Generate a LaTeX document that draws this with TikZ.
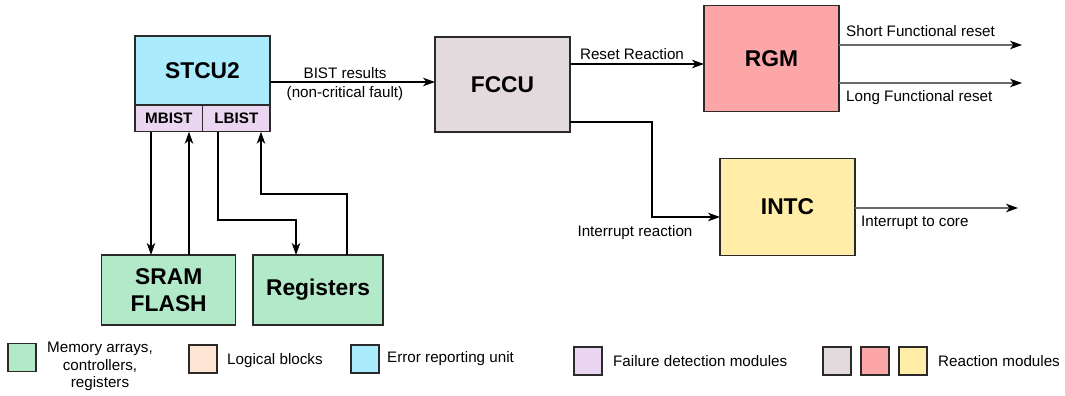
\documentclass[tikz,border=0pt]{standalone}
\usepackage{fontspec}
\setmainfont{Liberation Sans}
\usetikzlibrary{arrows.meta}
\definecolor{memgreen}{HTML}{B2E9C8}
\definecolor{logicpeach}{HTML}{FFE6D4}
\definecolor{errblue}{HTML}{AAEBFD}
\definecolor{detlav}{HTML}{EBD6F2}
\definecolor{reagray}{HTML}{E3DADD}
\definecolor{reapink}{HTML}{FCA6A8}
\definecolor{reayellow}{HTML}{FFEDA8}
\definecolor{edge}{HTML}{2A2A2A}
\definecolor{outgray}{HTML}{6A6A6A}
\tikzset{
  block/.style={draw=edge, line width=1.5pt, outer sep=0pt, inner sep=0pt,
    font=\fontsize{22.8}{26.5}\selectfont\bfseries, align=center},
  sub/.style={draw=edge, line width=1.3pt, outer sep=0pt, inner sep=0pt,
    font=\fontsize{15.2}{18}\selectfont\bfseries},
  swatch/.style={draw=edge, line width=1.1pt, minimum width=28pt, minimum height=28pt, inner sep=0pt},
  lbl/.style={font=\fontsize{15.2}{17.5}\selectfont, inner sep=0pt},
  arr/.style={line width=1.5pt, -{Stealth[length=12pt,width=8.5pt,inset=3.5pt]}},
  garr/.style={draw=outgray, line width=1.8pt, -{Stealth[length=12pt,width=8.5pt,inset=3.5pt,color=black]}},
}
\begin{document}
\begin{tikzpicture}[x=1pt,y=-1pt]
\useasboundingbox (0,0) rectangle (1065,396);

% self-test controller with its BIST engines
\node[block, fill=errblue, minimum width=135pt, minimum height=69pt] (stcu) at (202.5,70.5) {STCU2};
\node[sub, fill=detlav, minimum width=67.7pt, minimum height=26.5pt] (mbist) at (168.85,118.5) {MBIST};
\node[sub, fill=detlav, minimum width=67.3pt, minimum height=26.5pt] (lbist) at (236.35,118.5) {LBIST};

% memories and registers under test
\node[block, fill=memgreen, minimum width=134pt, minimum height=70pt] (sram) at (168.7,290) {SRAM\\FLASH};
\node[block, fill=memgreen, minimum width=130pt, minimum height=70pt] (regs) at (318,290) {Registers};

% reaction modules
\node[block, fill=reagray, minimum width=135pt, minimum height=95pt] (fccu) at (502.5,84.5) {FCCU};
\node[block, fill=reapink, minimum width=135pt, minimum height=106pt] (rgm) at (771.5,58.7) {RGM};
\node[block, fill=reayellow, minimum width=135pt, minimum height=97pt] (intc) at (787.5,207) {INTC};

% routing points
\coordinate (xa) at (151,0);
\coordinate (xb) at (189,0);
\coordinate (c1) at (218,220);
\coordinate (c2) at (296,220);
\coordinate (c3) at (347,194);
\coordinate (c4) at (261,194);
\coordinate (b1) at (300,82);
\coordinate (r1) at (600,64);
\coordinate (i1) at (652,122);
\coordinate (i2) at (652,217);
\coordinate (o1) at (1022,45);
\coordinate (o2) at (1022,83);
\coordinate (o3) at (1018,208);

% BIST paths
\draw[arr] (mbist.south -| xa) -- (sram.north -| xa);
\draw[arr] (sram.north -| xb) -- (mbist.south -| xb);
\draw[arr] (lbist.south -| c1) -- (c1) -- (c2) -- (regs.north -| c2);
\draw[arr] (regs.north -| c3) -- (c3) -- (c4) -- (lbist.south -| c4);

% fault signalling
\draw[arr] (stcu.east |- b1) -- (fccu.west |- b1);
\node[lbl] (bistres) at (345,73) {BIST results};
\node[lbl] (noncrit) at (345,93.5) {(non-critical fault)};

\draw[arr] (fccu.east |- r1) -- (rgm.west |- r1);
\node[lbl] (resetr) at (632,54) {Reset Reaction};

\draw[arr] (fccu.east |- i1) -- (i1) -- (i2) -- (intc.west |- i2);
\node[lbl] (intr) at (635,232.5) {Interrupt reaction};

% outputs
\draw[garr] (rgm.east |- o1) -- (o1);
\draw[garr] (rgm.east |- o2) -- (o2);
\draw[garr] (intc.east |- o3) -- (o3);
\node[lbl, anchor=west] (sfr) at (846,31) {Short Functional reset};
\node[lbl, anchor=west] (lfr) at (846,98) {Long Functional reset};
\node[lbl, anchor=west] (itc) at (861,223) {Interrupt to core};

% legend
\node[swatch, fill=memgreen] (lg1) at (22,357.5) {};
\node[lbl, align=center] (lt1) at (100,366.5) {Memory arrays,\\controllers,\\registers};
\node[swatch, fill=logicpeach] (lg2) at (203,359) {};
\node[lbl, anchor=west] (lt2) at (227,361) {Logical blocks};
\node[swatch, fill=errblue] (lg3) at (365,359) {};
\node[lbl, anchor=west] (lt3) at (387,359) {Error reporting unit};
\node[swatch, fill=detlav] (lg4) at (588,361) {};
\node[lbl, anchor=west] (lt4) at (613,361) {Failure detection modules};
\node[swatch, fill=reagray] (lg5) at (837,361) {};
\node[swatch, fill=reapink] (lg6) at (875,361) {};
\node[swatch, fill=reayellow] (lg7) at (913,361) {};
\node[lbl, anchor=west] (lt5) at (938,361) {Reaction modules};
\end{tikzpicture}
\end{document}
